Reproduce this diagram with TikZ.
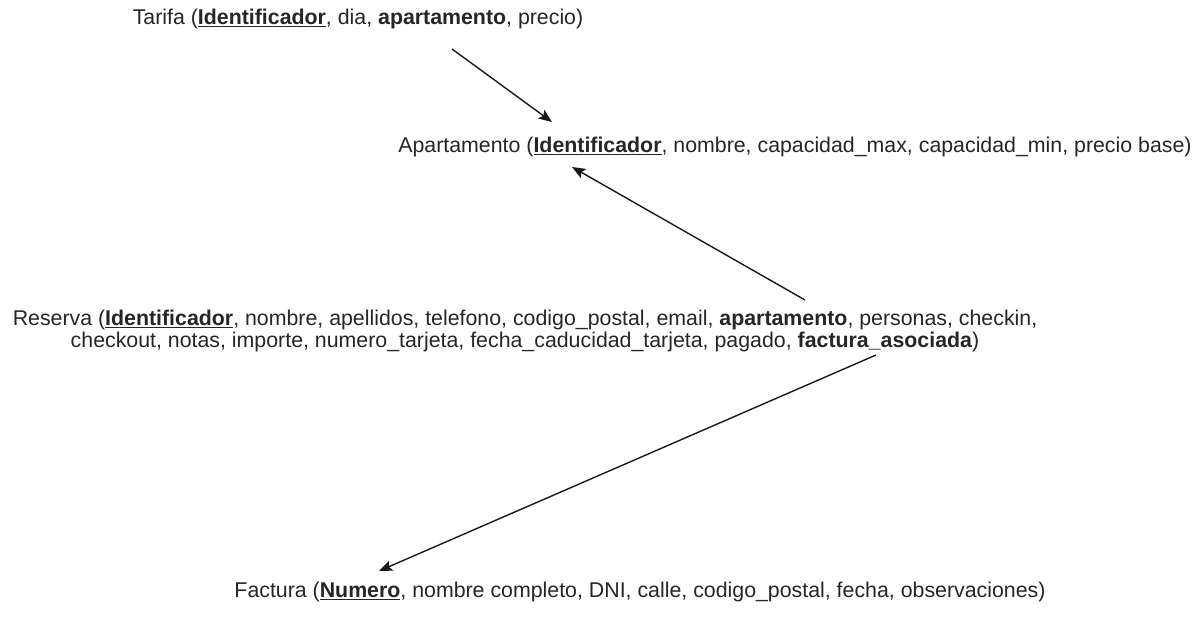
\documentclass[tikz,border=0pt]{standalone}
\usepackage{fontspec}
\setmainfont{Liberation Sans}
\usetikzlibrary{arrows.meta}
\begin{document}
\begin{tikzpicture}[x=0.75pt,y=-0.75pt,
  rel/.style={font=\fontsize{16}{16.5}\selectfont, text=black!85, inner sep=0pt, align=center},
  link/.style={line width=1.05pt, black!90, -{Stealth[length=10pt,width=8pt,inset=2pt]}}]
\useasboundingbox[fill=white] (0,0) rectangle (1202,617);

\node[rel] (tarifa) at (358,19)
  {Tarifa (\underline{\textbf{Identificador}}, dia, \textbf{apartamento}, precio)};
\node[rel] (apartamento) at (795,147)
  {Apartamento (\underline{\textbf{Identificador}}, nombre, capacidad\_max, capacidad\_min, precio base)};
\node[rel] (reserva) at (525,331)
  {Reserva (\underline{\textbf{Identificador}}, nombre, apellidos, telefono, codigo\_postal, email, \textbf{apartamento}, personas, checkin,\\
   checkout, notas, importe, numero\_tarjeta, fecha\_caducidad\_tarjeta, pagado, \textbf{factura\_asociada})};
\node[rel] (factura) at (640,592)
  {Factura (\underline{\textbf{Numero}}, nombre completo, DNI, calle, codigo\_postal, fecha, observaciones)};

% free ends of the connectors
\coordinate (t0) at (452,49);
\coordinate (a1) at (552,122);
\coordinate (r0) at (805,300);
\coordinate (a2) at (572,167);
\coordinate (r1) at (876,355);
\coordinate (f1) at (379,571);

\draw[link] (t0) -- (a1);
\draw[link] (r0) -- (a2);
\draw[link] (r1) -- (f1);
\end{tikzpicture}
\end{document}
